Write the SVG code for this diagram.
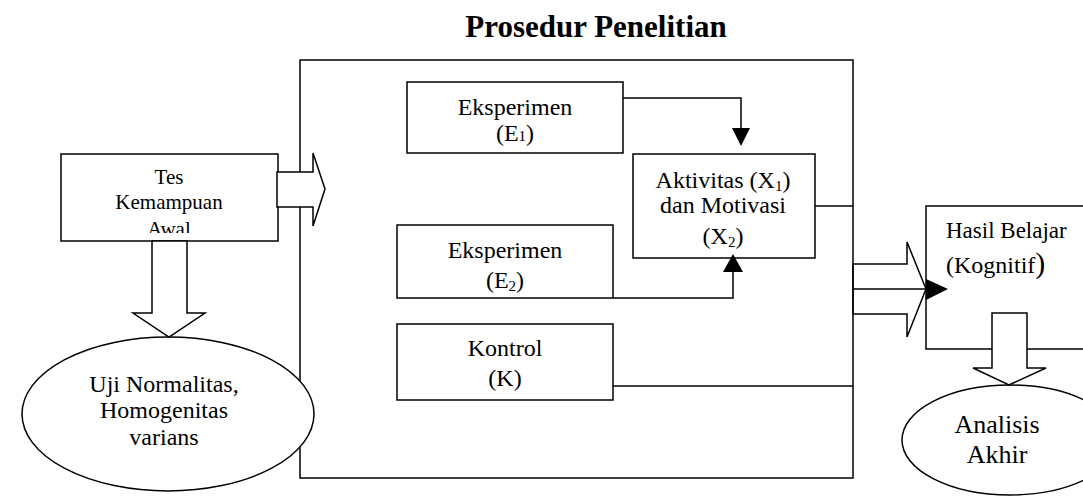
<svg xmlns="http://www.w3.org/2000/svg" width="1083" height="497" viewBox="0 0 1083 497">
<style>
.box{fill:#fff;stroke:#000;stroke-width:1.5}
.ln{fill:none;stroke:#000;stroke-width:1.5}
.blk{fill:#fff;stroke:#000;stroke-width:1.5;stroke-linejoin:miter}
.head{fill:#000;stroke:none}
.t{font-family:"Liberation Serif","Times New Roman",serif;font-size:24px;text-anchor:middle;fill:#000}
</style>
<defs>
<clipPath id="tesClip"><rect x="61" y="154" width="217" height="79"/></clipPath>
</defs>
<rect width="1083" height="497" fill="#fff"/>
<text class="t" x="596" y="37" style="font-size:31px;font-weight:bold">Prosedur Penelitian</text>

<g id="procedure-frame"><rect class="box" x="300" y="60" width="553" height="418"/></g>

<g id="e1"><rect class="box" x="407" y="82" width="216" height="71"/>
<text class="t" x="515" y="115">Eksperimen</text>
<text class="t" x="515" y="141">(E<tspan font-size="15">1</tspan>)</text></g>

<g id="e2"><rect class="box" x="397" y="225" width="216" height="73"/>
<text class="t" x="505" y="258">Eksperimen</text>
<text class="t" x="505" y="288">(E<tspan font-size="15" dy="3">2</tspan><tspan dy="-3">)</tspan></text></g>

<g id="kontrol"><rect class="box" x="397" y="324" width="216" height="76"/>
<text class="t" x="505" y="356">Kontrol</text>
<text class="t" x="505" y="386">(K)</text></g>

<g id="aktivitas"><rect class="box" x="633" y="154" width="182" height="104"/>
<text class="t" x="723" y="188">Aktivitas (X<tspan font-size="15" dy="3">1</tspan><tspan dy="-3">)</tspan></text>
<text class="t" x="723" y="213">dan Motivasi</text>
<text class="t" x="723" y="244">(X<tspan font-size="15" dy="3">2</tspan><tspan dy="-3">)</tspan></text></g>

<g id="hasil"><rect class="box" x="926" y="206" width="170" height="143"/>
<text class="t" x="946" y="238" style="text-anchor:start;font-size:23px">Hasil Belajar</text>
<text class="t" x="946" y="273" style="text-anchor:start">(Kognitif<tspan font-size="30">)</tspan></text></g>

<g id="tes"><rect class="box" x="61" y="154" width="217" height="87"/>
<g style="font-size:21px">
<text class="t" x="169" y="184" style="font-size:21px">Tes</text>
<text class="t" x="169" y="209" style="font-size:21px">Kemampuan</text>
<text class="t" x="169" y="236" style="font-size:21px" clip-path="url(#tesClip)">Awal</text>
</g></g>

<g id="uji"><ellipse class="box" cx="168" cy="414" rx="146" ry="77"/>
<text class="t" x="164" y="392">Uji Normalitas,</text>
<text class="t" x="164" y="418">Homogenitas</text>
<text class="t" x="164" y="445">varians</text></g>

<g id="analisis"><ellipse class="box" cx="1010" cy="440" rx="108" ry="55"/>
<text class="t" x="997" y="433" style="font-size:26px">Analisis</text>
<text class="t" x="997" y="463" style="font-size:26px">Akhir</text></g>

<g id="connectors">
<polyline class="ln" points="623,98 741,98 741,130"/>
<polygon class="head" points="732,128 750,128 741,146"/>
<polyline class="ln" points="613,298 733,298 733,270"/>
<polygon class="head" points="723,272 743,272 733,254"/>
<line class="ln" x1="815" y1="206" x2="853" y2="206"/>
<line class="ln" x1="613" y1="386" x2="853" y2="386"/>
<polygon class="blk" points="277,172 313,172 313,153 325,189 313,226 313,207 277,207"/>
<polygon class="blk" points="152,241 187,241 187,313 205,313 169,337 133,313 152,313"/>
<polygon class="ln" points="853,264 907,264 907,242 926,289 907,337 907,314 853,314"/>
<line class="ln" x1="853" y1="289" x2="928" y2="289"/>
<polygon class="head" points="926,279 948,289 926,300"/>
<polygon class="blk" points="992,313 1027,313 1027,368 1046,368 1009,385 973,368 992,368"/>
</g>
</svg>
